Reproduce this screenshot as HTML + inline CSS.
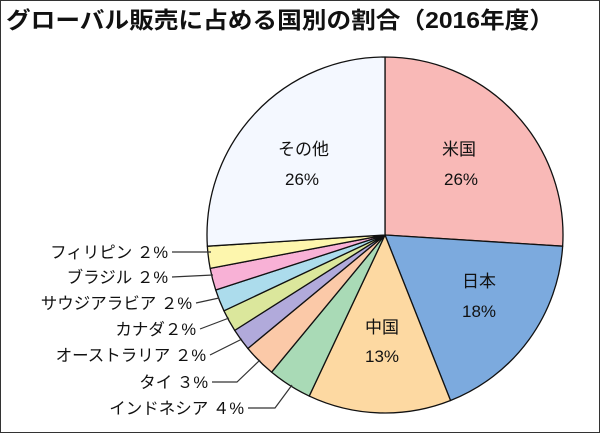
<!DOCTYPE html>
<html><head><meta charset="utf-8"><style>
body{margin:0;background:#fff}
svg{display:block}
text{font-family:"Liberation Sans","Noto Sans CJK JP",sans-serif}
</style></head><body>
<svg width="600" height="433" viewBox="0 0 600 433">
<rect x="0.5" y="0.5" width="599" height="432" fill="#fff" stroke="#333"/>
<text x="6" y="28" font-size="23" font-weight="bold" fill="#111" textLength="548" lengthAdjust="spacingAndGlyphs">グローバル販売に占める国別の割合（2016年度）</text>
<g stroke="#111" stroke-width="1.3" stroke-linejoin="round">
<path d="M385,235 L385,57 A178,178 0 0 1 562.65,246.18 Z" fill="#f9b9b7"/>
<path d="M385,235 L562.65,246.18 A178,178 0 0 1 450.53,400.5 Z" fill="#7caade"/>
<path d="M385,235 L450.53,400.5 A178,178 0 0 1 309.21,396.06 Z" fill="#fdd9a2"/>
<path d="M385,235 L309.21,396.06 A178,178 0 0 1 271.54,372.15 Z" fill="#a9dab6"/>
<path d="M385,235 L271.54,372.15 A178,178 0 0 1 247.85,348.46 Z" fill="#fbc9a8"/>
<path d="M385,235 L247.85,348.46 A178,178 0 0 1 234.71,330.38 Z" fill="#b1aadb"/>
<path d="M385,235 L234.71,330.38 A178,178 0 0 1 223.94,310.79 Z" fill="#dbe79c"/>
<path d="M385,235 L223.94,310.79 A178,178 0 0 1 215.71,290 Z" fill="#acdcec"/>
<path d="M385,235 L215.71,290 A178,178 0 0 1 210.15,268.35 Z" fill="#f8b1d6"/>
<path d="M385,235 L210.15,268.35 A178,178 0 0 1 207.35,246.18 Z" fill="#fdf6ad"/>
<path d="M385,235 L207.35,246.18 A178,178 0 0 1 385,57 Z" fill="#f4f8ff"/>
</g>
<g stroke="#333" stroke-width="1.2" fill="none">
<path d="M172,252 L211,252"/>
<path d="M172,277 L213,275"/>
<path d="M196,303 L219,298"/>
<path d="M200,329 L229,318"/>
<path d="M210,355 L242,339"/>
<path d="M212,382 L237,382 L260,360"/>
<path d="M248,408 L275,408 L292,385"/>
</g>
<g font-size="17" fill="#111">
<text x="278" y="155">その他</text><text x="285" y="185">26%</text>
<text x="442" y="155">米国</text><text x="444" y="185">26%</text>
<text x="462" y="287">日本</text><text x="462" y="317">18%</text>
<text x="365" y="333">中国</text><text x="365" y="362">13%</text>
<g font-size="16.5" text-anchor="end">
<text x="168" y="258">フィリピン ２%</text>
<text x="168" y="283">ブラジル ２%</text>
<text x="192" y="309">サウジアラビア ２%</text>
<text x="196" y="335">カナダ２%</text>
<text x="206" y="361">オーストラリア ２%</text>
<text x="208" y="388">タイ ３%</text>
<text x="244" y="414">インドネシア ４%</text>
</g>
</g>
</svg>
</body></html>
